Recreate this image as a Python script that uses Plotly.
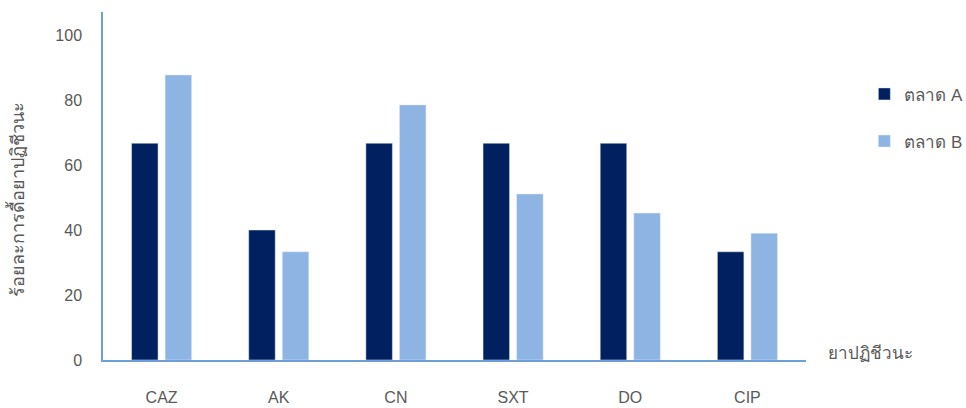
import plotly.graph_objects as go

categories = ["CAZ", "AK", "CN", "SXT", "DO", "CIP"]
market_a = [66.7, 40.0, 66.7, 66.7, 66.7, 33.3]
market_b = [87.7, 33.3, 78.5, 51.1, 45.2, 39.0]
series_names = ["ตลาด A", "ตลาด B"]
y_title = "ร้อยละการดื้อยาปฏิชีวนะ"
x_title = "ยาปฏิชีวนะ"

FONT = "Liberation Sans, Arial, Noto Sans, sans-serif"
AXIS = "#6f9fd8"
GRAY = "#595959"

fig = go.Figure()
fig.add_trace(go.Bar(x=categories, y=market_a, name=series_names[0],
                     marker_color="#002060", legendgroup="a"))
fig.add_trace(go.Bar(x=categories, y=market_b, name=series_names[1],
                     marker_color="#8eb4e3", legendgroup="b"))

fig.update_layout(
    width=966, height=408,
    margin=dict(l=103, r=160, t=12, b=48, autoexpand=False),
    paper_bgcolor="white", plot_bgcolor="white",
    barmode="group", bargap=0.427, bargroupgap=0.21,
    font=dict(family=FONT, size=16, color=GRAY),
    showlegend=True,
    legend=dict(x=1.083, y=0.815, xanchor="left", yanchor="top",
                tracegroupgap=22, font=dict(size=17, color=GRAY),
                itemwidth=30),
    xaxis=dict(showline=True, linecolor=AXIS, linewidth=1.5, automargin=False,
               showgrid=False, ticks="", ticklabelstandoff=22,
               tickfont=dict(size=16, color=GRAY)),
    yaxis=dict(range=[0, 107.08], showline=True, linecolor=AXIS, linewidth=1.5,
               automargin=False,
               showgrid=False, zeroline=False, ticks="", dtick=20,
               ticklabelstandoff=16, tickfont=dict(size=16, color=GRAY)),
    annotations=[
        dict(text=y_title, textangle=-90, xref="paper", yref="paper",
             x=-0.122, y=0.46, xanchor="center", yanchor="middle",
             showarrow=False, font=dict(size=18, color=GRAY)),
        dict(text=x_title, xref="paper", yref="paper",
             x=1.028, y=0.02, xanchor="left", yanchor="middle",
             showarrow=False, font=dict(size=17, color=GRAY)),
    ],
)

fig.write_html("out.html")
